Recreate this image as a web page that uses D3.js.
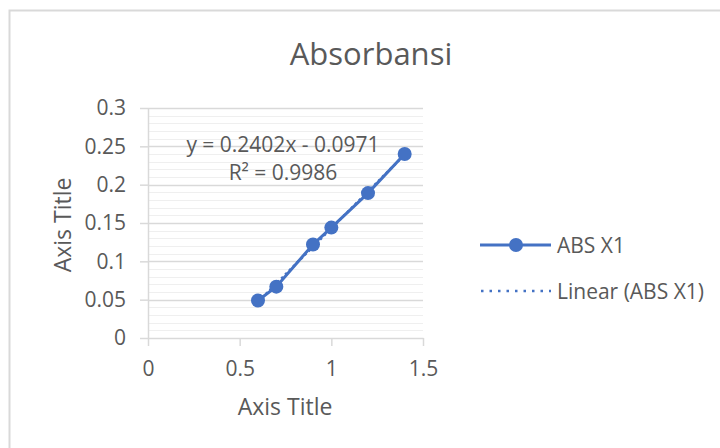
<!DOCTYPE html>
<html><head><meta charset="utf-8">
<script src="https://cdn.jsdelivr.net/npm/d3@7"></script>
<style>body{margin:0;background:#fff}</style>
</head><body><svg id="c" width="720" height="448"></svg>
<script>
const xValues = [0.6, 0.7, 0.9, 1.0, 1.2, 1.4];
const absValues = [0.049, 0.067, 0.122, 0.144, 0.189, 0.240];
const xTicks = [0, 0.5, 1, 1.5];
const yTicks = [0, 0.05, 0.1, 0.15, 0.2, 0.25, 0.3];
const slope = 0.2402, intercept = -0.0971;
const seriesName = "ABS X1";
const trendName = "Linear (ABS X1)";

const svg = d3.select("#c");
const color = "#4472C4", txt = "#595959";
const font = "'Open Sans', sans-serif";
const fs = "21px";

svg.append("rect").attr("x",9.5).attr("y",10.5).attr("width",720).attr("height",448)
  .attr("fill","#fff").attr("stroke","#d9d9d9").attr("stroke-width",2);

const x = d3.scaleLinear().domain([0,1.5]).range([148,423]);
const y = d3.scaleLinear().domain([0,0.3]).range([338,108]);

const minor = d3.range(0,0.3001,0.01);
svg.append("g").selectAll("line").data(minor).join("line")
  .attr("x1",x(0)).attr("x2",x(1.5)).attr("y1",d=>Math.round(y(d))+0.5).attr("y2",d=>Math.round(y(d))+0.5)
  .attr("stroke","#efefef").attr("stroke-width",1);
svg.append("g").selectAll("line").data(yTicks.slice(1)).join("line")
  .attr("x1",x(0)).attr("x2",x(1.5)).attr("y1",d=>Math.round(y(d))+0.5).attr("y2",d=>Math.round(y(d))+0.5)
  .attr("stroke","#d9d9d9").attr("stroke-width",1.5);

const yAxis = svg.append("g").attr("transform",`translate(${x(0)},0)`)
  .call(d3.axisLeft(y).tickValues(yTicks).tickSize(8).tickSizeOuter(0).tickPadding(14).tickFormat(d=>String(+d.toFixed(2))));
const xAxis = svg.append("g").attr("transform",`translate(0,${y(0)})`)
  .call(d3.axisBottom(x).tickValues(xTicks).tickSize(8).tickSizeOuter(0).tickPadding(15).tickFormat(d=>String(d)));
[yAxis,xAxis].forEach(a=>{
  a.selectAll("path,line").attr("stroke","#d9d9d9").attr("stroke-width",1.5);
  a.selectAll("text").attr("fill",txt).style("font-family",font).style("font-size",fs);
});
yAxis.selectAll(".tick line").attr("x1",-8).attr("x2",0);

const tx = d3.extent(xValues);
svg.append("line").attr("x1",x(tx[0])).attr("y1",y(slope*tx[0]+intercept))
  .attr("x2",x(tx[1])).attr("y2",y(slope*tx[1]+intercept))
  .attr("stroke",color).attr("stroke-width",2.5).attr("stroke-dasharray","2.5,3");

const pts = xValues.map((v,i)=>[v,absValues[i]]);
svg.append("path").datum(pts).attr("d",d3.line().x(d=>x(d[0])).y(d=>y(d[1])))
  .attr("fill","none").attr("stroke",color).attr("stroke-width",3);
svg.append("g").selectAll("circle").data(pts).join("circle")
  .attr("cx",d=>x(d[0])).attr("cy",d=>y(d[1])).attr("r",7).attr("fill",color);

svg.append("text").attr("x",283).attr("y",152).attr("text-anchor","middle")
  .attr("fill",txt).style("font-family",font).style("font-size",fs)
  .text(`y = ${slope}x - ${Math.abs(intercept)}`);
svg.append("text").attr("x",283).attr("y",180).attr("text-anchor","middle")
  .attr("fill",txt).style("font-family",font).style("font-size",fs)
  .text("R² = 0.9986");

svg.append("text").attr("x",371).attr("y",65).attr("text-anchor","middle")
  .attr("fill",txt).style("font-family",font).style("font-size","31px").text("Absorbansi");
svg.append("text").attr("x",285).attr("y",415).attr("text-anchor","middle")
  .attr("fill",txt).style("font-family",font).style("font-size","23px").text("Axis Title");
svg.append("text").attr("transform","translate(71,225) rotate(-90)").attr("text-anchor","middle")
  .attr("fill",txt).style("font-family",font).style("font-size","23px").text("Axis Title");

const lg = svg.append("g");
lg.append("line").attr("x1",480).attr("x2",551).attr("y1",245).attr("y2",245).attr("stroke",color).attr("stroke-width",3);
lg.append("circle").attr("cx",516).attr("cy",245).attr("r",7).attr("fill",color);
lg.append("text").attr("x",557).attr("y",253).attr("fill",txt).style("font-family",font).style("font-size",fs).text(seriesName);
lg.append("line").attr("x1",481).attr("x2",551).attr("y1",291).attr("y2",291).attr("stroke",color).attr("stroke-width",2.5).attr("stroke-dasharray","2.5,6");
lg.append("text").attr("x",557).attr("y",299).attr("fill",txt).style("font-family",font).style("font-size",fs).text(trendName);
</script></body></html>
